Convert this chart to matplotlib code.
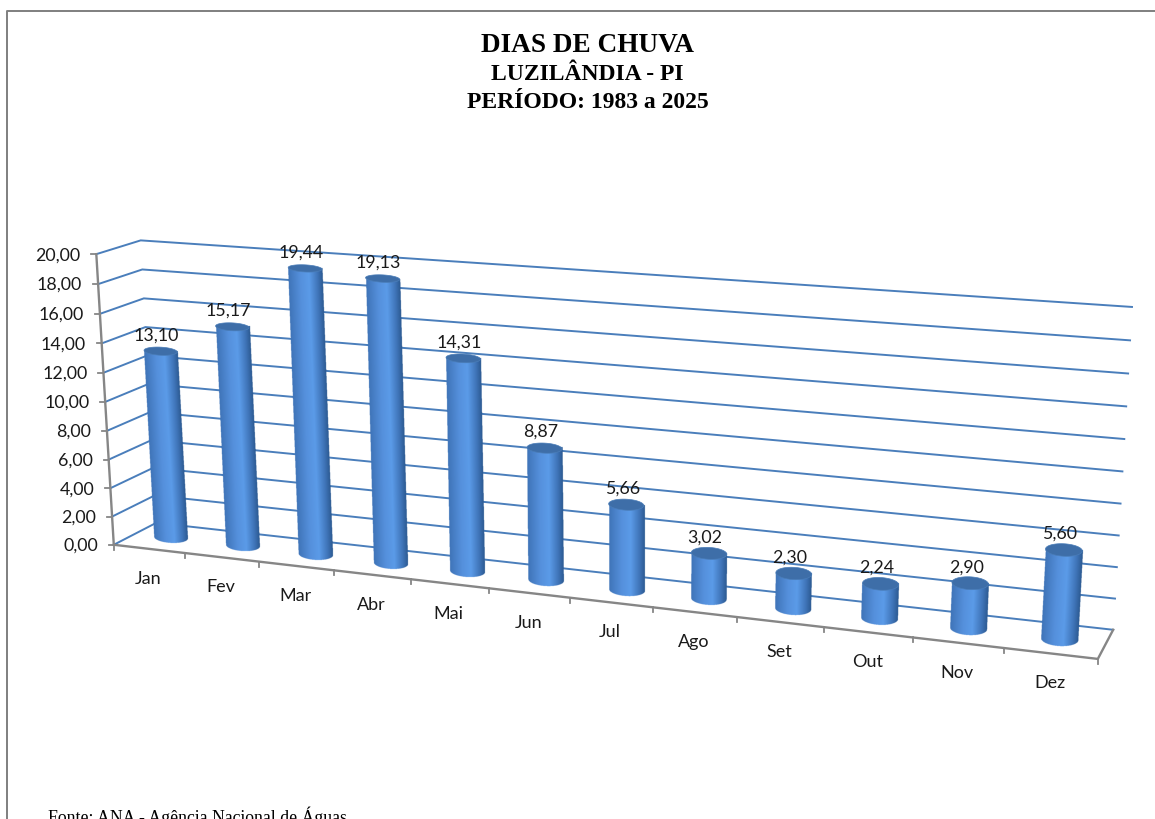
"""Dias de chuva por mês: colunas cilíndricas em perspectiva, projetadas a partir de uma caixa 3D."""

import matplotlib

matplotlib.use("Agg")
import matplotlib.pyplot as plt
import numpy as np
from matplotlib.colors import LinearSegmentedColormap
from matplotlib.patches import Polygon

MESES = ["Jan", "Fev", "Mar", "Abr", "Mai", "Jun", "Jul", "Ago", "Set", "Out", "Nov", "Dez"]
DIAS = [13.10, 15.17, 19.44, 19.13, 14.31, 8.87, 5.66, 3.02, 2.30, 2.24, 2.90, 5.60]
TICKS = [0, 2, 4, 6, 8, 10, 12, 14, 16, 18, 20]

TITULOS = ["DIAS DE CHUVA", "LUZILÂNDIA - PI", "PERÍODO: 1983 a 2025"]
FONTE = "Fonte: ANA - Agência Nacional de Águas"

C_GRID = "#4a7ebb"
C_EIXO = "#868686"
C_TAMPA = "#3e6ea8"
C_TEXTO = "#1a1a1a"
SOMBRA = LinearSegmentedColormap.from_list(
    "sombra", [(0.0, "#3f74b8"), (0.35, "#5590dc"), (0.6, "#5b9be8"), (0.85, "#3f74b8"), (1.0, "#2c5a92")])

NCAT = len(MESES)
VMAX = 20.0
R_D = 0.24              # raio do cilindro em profundidade
A_ESQ, A_DIR = 16.5, 18.5  # semi-largura das colunas na tela, da primeira à última
INCL = 0.05             # inclinação das elipses na tela
PASSO = 0.25            # resolução da rasterização das colunas, em pixels

# cantos da caixa do gráfico: (categoria/12, profundidade, valor/20) -> pixel
CANTOS = [
    ((0, 0, 0), (113, 546)),
    ((1, 0, 0), (1098, 660)),
    ((0.5, 0, 0), (570, 598)),
    ((0, 1, 0), (157, 524)),
    ((1, 1, 0), (1113, 631)),
    ((0, 0, 1), (97, 255.5)),
    ((0, 1, 1), (140, 241)),
    ((1, 1, 1), (1132, 308)),
]


def _camera(cantos):
    """Ajusta a matriz de projeção 3x4 (DLT) aos cantos da caixa."""
    A = []
    for (x, y, z), (px, py) in cantos:
        px, py = px / 1000, py / 1000
        A.append([x, y, z, 1, 0, 0, 0, 0, -px * x, -px * y, -px * z, -px])
        A.append([0, 0, 0, 0, x, y, z, 1, -py * x, -py * y, -py * z, -py])
    _, _, vt = np.linalg.svd(np.array(A, dtype=float))
    return vt[-1].reshape(3, 4)


CAM = _camera(CANTOS)


def proj(cat, prof, val):
    """(categoria 0..12, profundidade 0..1, valor) -> (x, y) em pixels."""
    cat, prof, val = np.broadcast_arrays(np.asarray(cat, float), np.asarray(prof, float), np.asarray(val, float))
    h = np.stack([cat / NCAT, prof, val / VMAX, np.ones_like(cat)])
    p = CAM @ h.reshape(4, -1)
    return (1000 * p[0] / p[2]).reshape(cat.shape), (1000 * p[1] / p[2]).reshape(cat.shape)


def _elipse(c, val):
    """Centro e semi-eixos, na tela, do círculo da coluna no nível val."""
    cx, cy = proj(c, 0.5, val)
    _, yf = proj(c, 0.5 - R_D, val)
    _, yt = proj(c, 0.5 + R_D, val)
    return float(cx), float(cy), A_ESQ + (A_DIR - A_ESQ) * c / NCAT, float(yf - yt) / 2


def _cilindro(ax, i, val):
    c = i + 0.5
    cxb, cyb, ab, bb = _elipse(c, 0)
    cxt, cyt, at, bt = _elipse(c, val)

    # lateral rasterizada com folga; o degradê acompanha a inclinação da coluna
    x0, x1 = min(cxb - ab, cxt - at) - 2, max(cxb + ab, cxt + at) + 2
    y0, y1 = cyt - 2, cyb + bb + 4
    xs = np.arange(x0, x1, PASSO)
    ys = np.arange(y0, y1, PASSO)
    XG, YG = np.meshgrid(xs, ys)
    s = np.clip((cyb - YG) / (cyb - cyt), 0, 1)
    u = (XG - (cxb + (cxt - cxb) * s)) / (ab + (at - ab) * s)
    dentro = np.abs(u) <= 1
    u = np.clip(u, -1, 1)
    fundo = cyb + bb * np.sqrt(1 - u ** 2) + INCL * ab * u
    dentro &= (YG <= fundo) & (YG >= cyt)
    rgba = SOMBRA((u + 1) / 2)
    rgba[..., 3] = dentro
    ax.imshow(rgba, extent=(x0, xs[-1] + PASSO, ys[-1] + PASSO, y0), origin="upper", aspect="auto",
              interpolation="hanning", zorder=3)

    # tampa
    t2 = np.linspace(0, 2 * np.pi, 60)
    dx = at * np.cos(t2)
    ax.add_patch(Polygon(np.c_[cxt + dx, cyt + bt * np.sin(t2) + INCL * dx], closed=True,
                         fc=C_TAMPA, ec="#4a7db8", lw=0.5, zorder=4))


fig = plt.figure(figsize=(11.55, 8.2), dpi=100, facecolor="white")
ax = fig.add_axes([0, 0, 1, 1])
ax.axis("off")

# moldura da área do gráfico
ax.plot([6.5, 6.5, 1155], [820, 12, 12], color="#7f7f7f", lw=1.4, zorder=1)

# linhas de grade: parede lateral e parede do fundo
for v in TICKS:
    x, y = proj([0, 0, NCAT], [0, 1, 1], [v, v, v])
    ax.plot(x, y, color=C_GRID, lw=1.4, zorder=2, solid_joinstyle="miter")

# eixos
x, y = proj([0, 0], [0, 0], [0, VMAX])
ax.plot(x, y, color=C_EIXO, lw=1.7, zorder=2)
x, y = proj([0, NCAT, NCAT], [0, 0, 1], [0, 0, 0])
ax.plot(x, y, color=C_EIXO, lw=1.7, zorder=2)

for v in TICKS:
    x, y = proj(0, 0, v)
    ax.plot([x - 5, x], [y, y], color=C_EIXO, lw=1.3, zorder=2)
    ax.text(x - 16, y, f"{v:.2f}".replace(".", ","), ha="right", va="center",
            family="Lato", fontsize=12.8, color=C_TEXTO)

for i in range(NCAT + 1):
    x, y = proj(i, 0, 0)
    ax.plot([x, x], [y, y + 5], color=C_EIXO, lw=1.3, zorder=2)

for i, (mes, val) in enumerate(zip(MESES, DIAS)):
    _cilindro(ax, i, val)
    x, y = proj(i + 0.5, 0, 0)
    ax.text(x - 1, y + 29, mes, ha="center", va="center", family="Lato", fontsize=13, color=C_TEXTO)
    x, y = proj(i + 0.5, 0.5, val)
    ax.text(x - 4, y - 17, f"{val:.2f}".replace(".", ","), ha="center", va="center",
            family="Lato", fontsize=12.8, color=C_TEXTO, zorder=5)

for txt, yy, fs in zip(TITULOS, (45, 74, 102), (19.6, 17, 17)):
    ax.text(587.5, yy, txt, ha="center", va="center", family="Liberation Serif",
            fontweight="bold", fontsize=fs, color="black")

# a linha da fonte fica rente à borda inferior da figura
ax.text(48, 823, FONTE, ha="left", va="baseline", family="Liberation Serif", fontsize=12.8, color="black",
        clip_on=False)

ax.set_xlim(0, 1155)
ax.set_ylim(820, 0)
fig.savefig("out.png", dpi=100)
